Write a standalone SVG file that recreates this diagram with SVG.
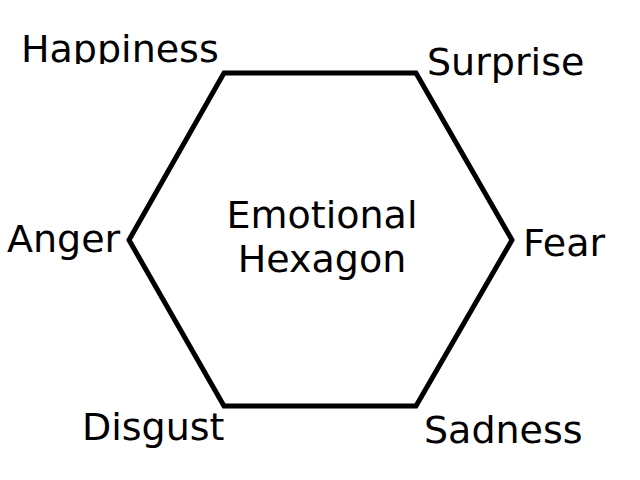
<svg xmlns="http://www.w3.org/2000/svg" width="640" height="480" viewBox="0 0 640 480">
<style>
text{font-family:"DejaVu Sans",sans-serif;font-size:38px;fill:#000}
.hex{fill:none;stroke:#000;stroke-width:5}
</style>
<defs><clipPath id="clipH"><rect x="0" y="0" width="640" height="64"/></clipPath></defs>
<rect width="640" height="480" fill="#fff"/>
<g id="hexagon"><polygon class="hex" points="224,73 416,73 512,240 416,406 224,406 129,240"/></g>
<g id="center"><text x="322" y="228" text-anchor="middle">Emotional</text><text x="322" y="272" text-anchor="middle">Hexagon</text></g>
<g id="happiness"><text x="21" y="62" clip-path="url(#clipH)">Happiness</text></g>
<g id="surprise"><text x="427" y="75">Surprise</text></g>
<g id="anger"><text x="7" y="252">Anger</text></g>
<g id="fear"><text x="523" y="256">Fear</text></g>
<g id="disgust"><text x="82" y="440">Disgust</text></g>
<g id="sadness"><text x="424" y="443">Sadness</text></g>
<g id="connectors"></g>
</svg>
